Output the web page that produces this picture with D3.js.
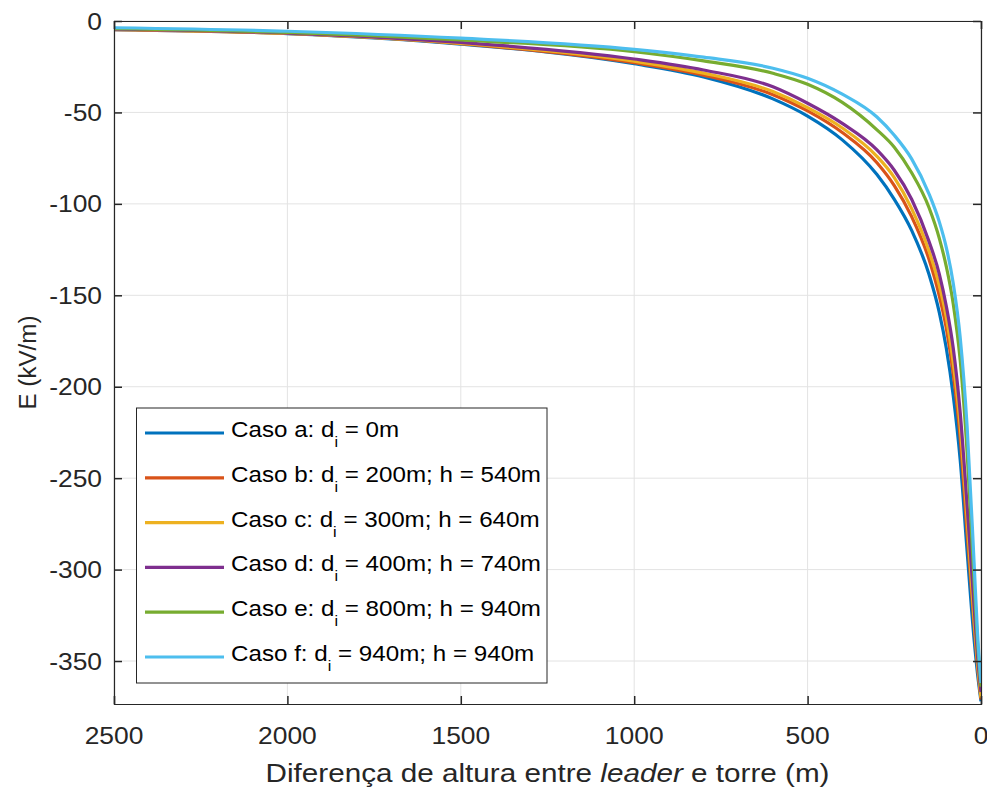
<!DOCTYPE html>
<html>
<head>
<meta charset="utf-8">
<script src="https://cdn.jsdelivr.net/npm/d3@7"></script>
<style>
  html, body { margin: 0; padding: 0; background: #fff; }
  svg { display: block; }
  text { font-family: "Liberation Sans", Arial, Helvetica, sans-serif; fill: #262626; }
</style>
</head>
<body>
<svg id="chart" width="987" height="789"></svg>
<script>
// ---- data ----
const xValues = [2500, 2000, 1500, 1000, 800, 600, 500, 400, 300, 250, 200, 150, 120, 100, 80, 60, 40, 20, 10, 0];
const casoA = [-4.7, -6.9, -12.6, -23.4, -30.6, -42.6, -52.0, -65.0, -84.0, -97.5, -114.5, -138.5, -159.6, -179, -205, -240, -290, -338, -357, -372];
const casoB = [-4.7, -6.85, -12.4, -22.8, -29.6, -40.3, -49.2, -61.0, -77.5, -90.0, -107.0, -130.3, -150.5, -168, -193, -228, -280, -330, -353, -371];
const casoC = [-4.6, -6.8, -12.2, -22.0, -28.5, -38.6, -47.4, -58.5, -74.0, -85.6, -102.6, -125.8, -144.8, -162, -187, -221.5, -272.5, -327, -351, -370];
const casoD = [-4.5, -6.6, -11.7, -20.8, -26.8, -36.0, -45.0, -56.0, -70.5, -81.6, -97.5, -120.5, -138.5, -156, -179, -214, -265, -320, -347, -367];
const casoE = [-4.2, -6.2, -10.4, -16.8, -21.8, -28.6, -34.6, -44.5, -59.5, -69.0, -83.0, -102.0, -119.0, -134.3, -154.7, -185.5, -236, -306, -340, -364];
const casoF = [-3.7, -5.6, -9.4, -15.5, -19.8, -25.8, -31.3, -40.0, -52.5, -62.5, -75.4, -94.5, -110.0, -123.9, -143.5, -173, -222, -296, -335, -362];

const seriesNames = ["Caso a", "Caso b", "Caso c", "Caso d", "Caso e", "Caso f"];
const seriesDi = ["0m", "200m", "300m", "400m", "800m", "940m"];
const seriesH = [null, "540m", "640m", "740m", "940m", "940m"];
const seriesColors = ["#0072BD", "#D95319", "#EDB120", "#7E2F8E", "#77AC30", "#4DBEEE"];
const seriesValues = [casoA, casoB, casoC, casoD, casoE, casoF];

const xTicks = [2500, 2000, 1500, 1000, 500, 0];
const yTicks = [0, -50, -100, -150, -200, -250, -300, -350];

// ---- layout ----
const plot = { left: 114, right: 981, top: 21, bottom: 704 };

const svg = d3.select("#chart");
const x = d3.scaleLinear().domain([2500, 0]).range([plot.left, plot.right]);
const y = d3.scaleLinear().domain([-373.5, 0]).range([plot.bottom, plot.top]);

const ink = "#262626";
const tickFont = 24, tickScale = 1.1;

function sText(g, tx, ty, sx, anchor, size) {
  return g.append("text")
    .attr("transform", `translate(${tx},${ty}) scale(${sx},1)`)
    .attr("text-anchor", anchor)
    .style("font-size", size + "px");
}

// grid
const grid = svg.append("g");
grid.selectAll("line.gx").data(xTicks).join("line")
  .attr("x1", d => x(d)).attr("x2", d => x(d))
  .attr("y1", plot.top).attr("y2", plot.bottom)
  .attr("stroke", "#e3e3e3").attr("stroke-width", 1);
grid.selectAll("line.gy").data(yTicks).join("line")
  .attr("x1", plot.left).attr("x2", plot.right)
  .attr("y1", d => y(d)).attr("y2", d => y(d))
  .attr("stroke", "#e3e3e3").attr("stroke-width", 1);

// lines
const line = d3.line()
  .x((d, i) => x(xValues[i]))
  .y(d => y(d))
  .curve(d3.curveMonotoneX);

svg.append("clipPath").attr("id", "clip").append("rect")
  .attr("x", plot.left).attr("y", plot.top)
  .attr("width", plot.right - plot.left).attr("height", plot.bottom - plot.top);

svg.append("g").attr("clip-path", "url(#clip)")
  .selectAll("path").data(seriesValues).join("path")
  .attr("d", d => line(d))
  .attr("fill", "none")
  .attr("stroke", (d, i) => seriesColors[i])
  .attr("stroke-width", 3.2)
  .attr("stroke-linejoin", "round");

// axes (box with mirrored ticks)
const axB = d3.axisBottom(x).tickValues(xTicks).tickSize(-8).tickFormat("");
const axT = d3.axisTop(x).tickValues(xTicks).tickSize(-8).tickFormat("");
const axL = d3.axisLeft(y).tickValues(yTicks).tickSize(-8).tickFormat("");
const axR = d3.axisRight(y).tickValues(yTicks).tickSize(-8).tickFormat("");
function styleAxis(g) {
  g.selectAll("path").attr("stroke", ink).attr("stroke-width", 1.2);
  g.selectAll("line").attr("stroke", ink).attr("stroke-width", 1.5);
}
svg.append("g").attr("transform", `translate(0,${plot.bottom})`).call(axB).call(styleAxis);
svg.append("g").attr("transform", `translate(0,${plot.top})`).call(axT).call(styleAxis);
svg.append("g").attr("transform", `translate(${plot.left},0)`).call(axL).call(styleAxis);
svg.append("g").attr("transform", `translate(${plot.right},0)`).call(axR).call(styleAxis);

// tick labels
const labels = svg.append("g");
xTicks.forEach(t => {
  sText(labels, x(t), 744, tickScale, "middle", tickFont).text(String(t));
});
yTicks.forEach(t => {
  sText(labels, 102, y(t) + 8.6, tickScale, "end", tickFont).text(String(t));
});

// axis titles
const xl = sText(svg, (plot.left + plot.right) / 2, 782, 1.12, "middle", 26.5);
xl.append("tspan").text("Diferença de altura entre ");
xl.append("tspan").style("font-style", "italic").text("leader");
xl.append("tspan").text(" e torre (m)");

svg.append("text")
  .attr("transform", `translate(36,${(plot.top + plot.bottom) / 2}) rotate(-90) scale(1.05,1)`)
  .attr("text-anchor", "middle")
  .style("font-size", "23px")
  .text("E (kV/m)");

// legend
const leg = { x0: 136.5, y0: 408, x1: 547, y1: 683, row0: 433, rowStep: 44.8 };
const lg = svg.append("g");
lg.append("rect")
  .attr("x", leg.x0).attr("y", leg.y0)
  .attr("width", leg.x1 - leg.x0).attr("height", leg.y1 - leg.y0)
  .attr("fill", "#fff").attr("stroke", ink).attr("stroke-width", 1);
seriesNames.forEach((name, i) => {
  const ry = leg.row0 + i * leg.rowStep;
  lg.append("line")
    .attr("x1", 145).attr("x2", 224).attr("y1", ry).attr("y2", ry)
    .attr("stroke", seriesColors[i]).attr("stroke-width", 3.2);
  const t = sText(lg, 231, ry + 4, 1.075, "start", 22.5).style("fill", "#000");
  t.append("tspan").text(name + ": d");
  t.append("tspan").attr("dy", 10).style("font-size", "15px").text("i");
  const rest = " = " + seriesDi[i] + (seriesH[i] ? "; h = " + seriesH[i] : "");
  t.append("tspan").attr("dy", -10).text(rest);
});
</script>
</body>
</html>
